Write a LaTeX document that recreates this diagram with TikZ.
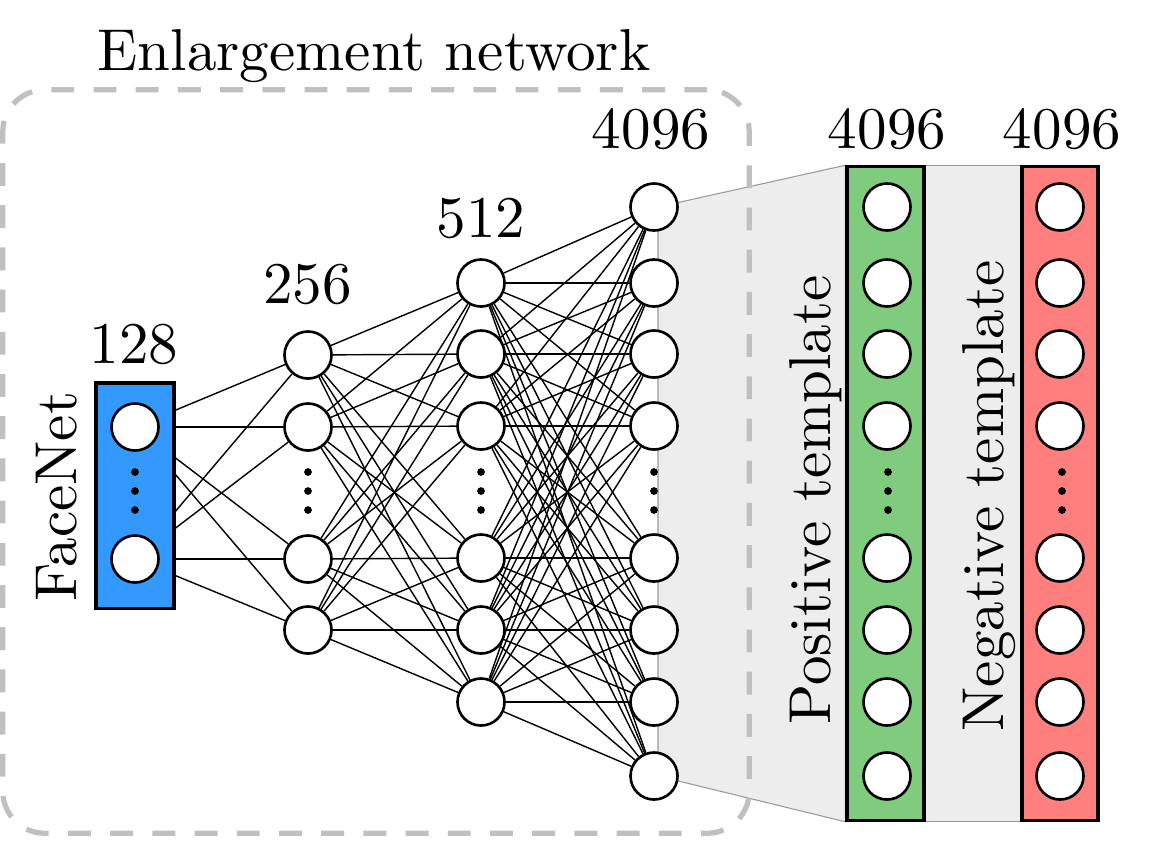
\documentclass[tikz,border=0pt]{standalone}
\usepackage{fontspec}
\newfontfamily\figfont{lmroman10-regular.otf}
\usetikzlibrary{calc}
\pgfdeclarelayer{background}
\pgfsetlayers{background,main}
\definecolor{facenetblue}{RGB}{51,153,255}
\definecolor{posgreen}{RGB}{127,204,127}
\definecolor{negred}{RGB}{255,127,127}
\definecolor{dashgray}{RGB}{192,192,192}
\definecolor{bandgray}{RGB}{237,237,237}

\begin{document}
\begin{tikzpicture}[x=0.01cm, y=-0.01cm,
  neuron/.style={circle, draw, line width=0.75pt, fill=white,
                 minimum size=0.47cm, inner sep=0pt},
  layerbox/.style={draw, line width=0.9pt, inner sep=0pt},
  netframe/.style={draw=dashgray, line width=1.5pt, dash pattern=on 6.5pt off 5.5pt,
                   rounded corners=0.42cm, inner sep=0pt},
  lbl/.style={font=\figfont\fontsize{16.8}{20}\selectfont, anchor=base, inner sep=0pt},
  link/.style={line width=0.4pt},
  shade/.style={fill=bandgray, draw=gray!80, line width=0.3pt}]
\useasboundingbox (0,0) rectangle (1168,863);

% enlargement network frame
\node[netframe, minimum width=7.46cm, minimum height=7.43cm] (enl) at (376,461.5) {};
\node[lbl] (enltitle) at (374,70) {Enlargement network};

% layer boxes
\node[layerbox, fill=facenetblue, minimum width=0.78cm, minimum height=2.25cm] (fbox) at (135,495.5) {};
\node[layerbox, fill=posgreen, minimum width=0.77cm, minimum height=6.53cm] (pbox) at (885.5,493.5) {};
\node[layerbox, fill=negred, minimum width=0.76cm, minimum height=6.53cm] (nbox) at (1060,493.5) {};

% neurons
\node[neuron] (f1) at (135,427) {};
\node[neuron] (f2) at (135,559) {};
\foreach \y [count=\i] in {355,427,559,630}
  \node[neuron] (a\i) at (308,\y) {};
\foreach \y [count=\i] in {283,354,426,558,630,702}
  \node[neuron] (b\i) at (481,\y) {};
\foreach \y [count=\i] in {207,283,354,426,558,630,702,776} {
  \node[neuron] (c\i) at (654,\y) {};
  \node[neuron] (p\i) at (887,\y) {};
  \node[neuron] (n\i) at (1060,\y) {};
}

% dots
\foreach \x in {135,308,481,654,888,1062}
  \foreach \y in {472,491,510}
    \fill (\x,\y) circle (1.1pt);

% sizes
\node[lbl] (l128) at (134,363) {128};
\node[lbl] (l256) at (307.5,303) {256};
\node[lbl] (l512) at (481,237) {512};
\node[lbl] (l4096) at (651,148) {4096};
\node[lbl] (lpos) at (887,148) {4096};
\node[lbl] (lneg) at (1062,148) {4096};

% names
\node[lbl, rotate=90] (facenet) at (76,496.5) {FaceNet};
\node[lbl, rotate=90] (postxt) at (830,500) {Positive template};
\node[lbl, rotate=90] (negtxt) at (1003,496) {Negative template};

\begin{pgfonlayer}{background}
  \filldraw[shade] ($(c1)+(4,0)$) -- (pbox.north west) -- (pbox.south west) -- ($(c8)+(4,0)$) -- cycle;
  \filldraw[shade] (pbox.north east) rectangle (nbox.south west);
  \foreach \i in {1,2}
    \foreach \j in {1,...,4}
      \draw[link] (f\i) -- (a\j);
  \foreach \i in {1,...,4}
    \foreach \j in {1,...,6}
      \draw[link] (a\i) -- (b\j);
  \foreach \i in {1,...,6}
    \foreach \j in {1,...,8}
      \draw[link] (b\i) -- (c\j);
\end{pgfonlayer}
\end{tikzpicture}
\end{document}
